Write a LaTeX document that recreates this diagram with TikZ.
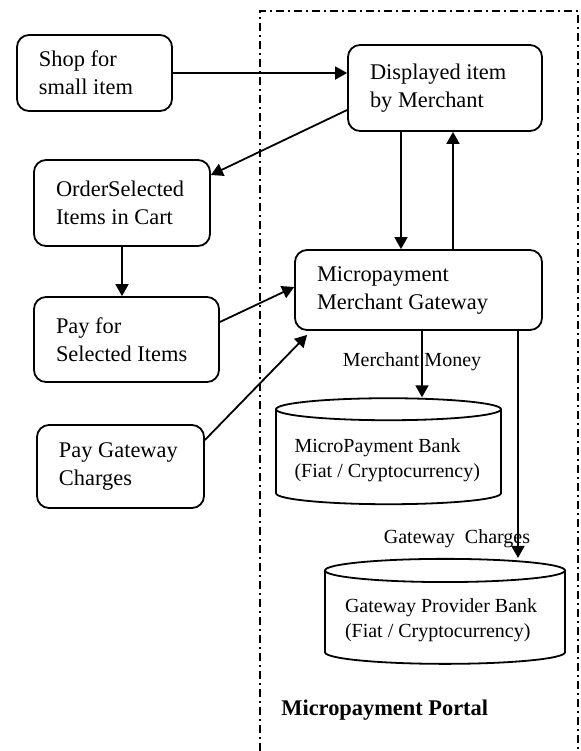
\documentclass[tikz,border=0pt]{standalone}
\usepackage{fontspec}
\setmainfont{Liberation Serif}
\usetikzlibrary{arrows.meta,positioning,shapes.geometric}
\newcommand{\boxfont}{\fontsize{11.2}{14}\selectfont}
\newcommand{\dbfont}{\fontsize{10}{12.5}\selectfont}
\newcommand{\lblfont}{\fontsize{10}{12}\selectfont}
\newcommand{\portalfont}{\fontsize{11.2}{14}\selectfont\bfseries}
\tikzset{
  procbox/.style={draw,rounded corners=6pt,line width=0.9pt,align=flush left,inner xsep=11pt,font=\boxfont},
  bankdb/.style={draw,cylinder,shape border rotate=90,aspect=0.1,line width=0.9pt,align=flush left,inner xsep=8pt,font=\dbfont},
  arr/.style={-{Triangle[length=6pt,width=6.5pt]},line width=0.9pt},
  lbl/.style={font=\lblfont,inner sep=0pt},
  portal/.style={line width=0.75pt,dash pattern=on 4pt off 2pt on 1pt off 2pt}
}

\begin{document}
\begin{tikzpicture}[x=0.5pt,y=-0.5pt]
\useasboundingbox (0,0) rectangle (581,751);
\draw[portal] (260,751)--(260,11)--(578,11)--(578,751);
\node[procbox,minimum width=77.5pt,minimum height=38pt,text width=55.5pt] (shop) at (94.5,73) {Shop for\\small item};
\node[procbox,minimum width=97pt,minimum height=43pt,text width=75pt] (disp) at (445,88) {Displayed item\\by Merchant};
\node[procbox,minimum width=88pt,minimum height=43pt,text width=66pt] (order) at (122,203) {OrderSelected\\Items in Cart};
\node[procbox,minimum width=123.5pt,minimum height=40pt,text width=101.5pt] (gw) at (418.5,290) {Micropayment\\Merchant Gateway};
\node[procbox,minimum width=92.5pt,minimum height=42.5pt,text width=70.5pt] (pay) at (126.5,339.5) {Pay for\\Selected Items};
\node[procbox,minimum width=83.5pt,minimum height=41.5pt,text width=61.5pt] (paygw) at (120.5,466.5) {Pay Gateway\\Charges};
\node[bankdb,minimum width=112.5pt,minimum height=53pt,text width=94pt] (mbank) at (388.5,460) {MicroPayment Bank\\(Fiat / Cryptocurrency)};
\node[bankdb,minimum width=120pt,minimum height=52.5pt,text width=100pt] (gbank) at (445,620.5) {Gateway Provider Bank\\(Fiat / Cryptocurrency)};
\coordinate (dn) at ([xshift=-22pt]disp.south);
\coordinate (up) at ([xshift=4pt]disp.south);
\coordinate (mm) at ([xshift=1.75pt]gw.south);
\coordinate (gc) at ([xshift=49.75pt]gw.south);
\draw[arr] (shop.east)--(shop.east -| disp.west);
\draw[arr] ([yshift=-11pt]disp.west)--([yshift=14pt]order.east);
\draw[arr] (dn)--(dn |- gw.north);
\draw[arr] (up |- gw.north)--(up);
\draw[arr] (order.south)--(order.south |- pay.north);
\draw[arr] ([yshift=8.75pt]pay.east)--([yshift=1.5pt]gw.west);
\draw[arr] ([yshift=13.25pt]paygw.east)--([xshift=6.5pt,yshift=-2pt]gw.south west);
\draw[arr] (mm)--(mm |- mbank.north);
\draw[arr] (gc)--(gc |- gbank.north);
\node[lbl] (mmlbl) at (412,362) {Merchant Money};
\node[lbl] (gclbl) at (457,539) {Gateway\ \ Charges};
\node[font=\portalfont,anchor=west,inner sep=0pt] (portal) at (281,710) {Micropayment Portal};
\end{tikzpicture}
\end{document}
